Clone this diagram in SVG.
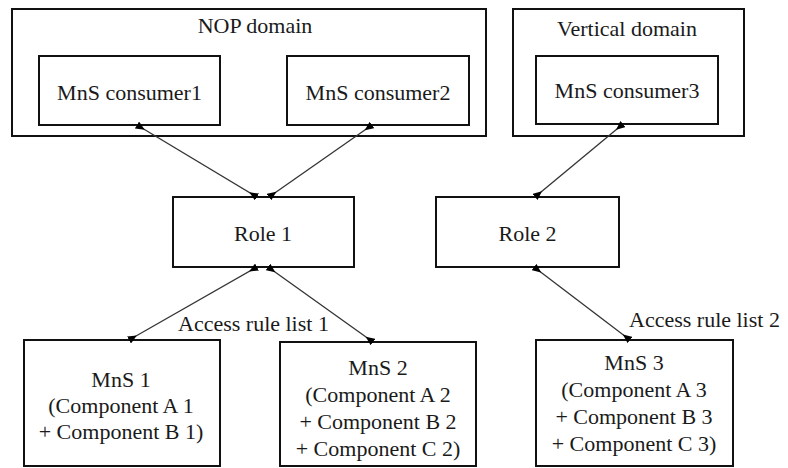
<svg xmlns="http://www.w3.org/2000/svg" width="788" height="468" viewBox="0 0 788 468">
<defs>
<style>
.box{fill:#fff;stroke:#111;stroke-width:2}
text{font-family:'Liberation Serif','DejaVu Serif','Times New Roman',serif;font-size:22px;fill:#1a1a1a}
.t{text-anchor:middle}
.e{stroke:#333;stroke-width:1.3;fill:none;marker-start:url(#ah);marker-end:url(#ah)}
</style>
<marker id="ah" viewBox="0 0 9 8" refX="9" refY="4" markerWidth="9" markerHeight="8" markerUnits="userSpaceOnUse" orient="auto-start-reverse">
<path d="M9,0 L0,4 L9,8 z" fill="#000"/>
</marker>
</defs>
<rect width="788" height="468" fill="#fff"/>
<g id="nop-domain">
<rect class="box" x="12" y="9" width="474" height="127"/>
<text class="t" x="255" y="33" font-family="Liberation Serif, serif">NOP domain</text>
</g>
<g id="vertical-domain">
<rect class="box" x="513" y="9" width="231" height="127"/>
<text class="t" x="627" y="36">Vertical domain</text>
</g>
<g id="consumer1">
<rect class="box" x="39" y="56" width="181" height="69"/>
<text class="t" x="129.5" y="100">MnS consumer1</text>
</g>
<g id="consumer2">
<rect class="box" x="287" y="56" width="182" height="69"/>
<text class="t" x="378" y="100">MnS consumer2</text>
</g>
<g id="consumer3">
<rect class="box" x="536" y="56" width="182" height="68"/>
<text class="t" x="627" y="98">MnS consumer3</text>
</g>
<g id="role1">
<rect class="box" x="173" y="197" width="181" height="70"/>
<text class="t" x="263" y="241">Role 1</text>
</g>
<g id="role2">
<rect class="box" x="436" y="197" width="183" height="70"/>
<text class="t" x="527.5" y="241">Role 2</text>
</g>
<g id="mns1">
<rect class="box" x="24" y="340" width="196" height="126"/>
<text class="t" x="121" y="387">MnS 1</text>
<text class="t" x="121" y="413">(Component A 1</text>
<text class="t" x="121" y="439">+ Component B 1)</text>
</g>
<g id="mns2">
<rect class="box" x="280" y="342" width="196" height="124"/>
<text class="t" x="378" y="375">MnS 2</text>
<text class="t" x="378" y="402">(Component A 2</text>
<text class="t" x="378" y="429">+ Component B 2</text>
<text class="t" x="378" y="456">+ Component C 2)</text>
</g>
<g id="mns3">
<rect class="box" x="536" y="340" width="197" height="126"/>
<text class="t" x="634" y="370">MnS 3</text>
<text class="t" x="634" y="397">(Component A 3</text>
<text class="t" x="634" y="424">+ Component B 3</text>
<text class="t" x="634" y="451">+ Component C 3)</text>
</g>
<g id="connectors">
<line class="e" x1="137" y1="125" x2="257" y2="197"/>
<line class="e" x1="372" y1="125" x2="269" y2="197"/>
<line class="e" x1="623" y1="124" x2="535" y2="197"/>
<line class="e" x1="257" y1="267" x2="129" y2="340"/>
<line class="e" x1="268" y1="267" x2="373" y2="342"/>
<line class="e" x1="534" y1="267" x2="630" y2="340"/>
<text x="178" y="331">Access rule list 1</text>
<text x="629" y="327">Access rule list 2</text>
</g>
</svg>
